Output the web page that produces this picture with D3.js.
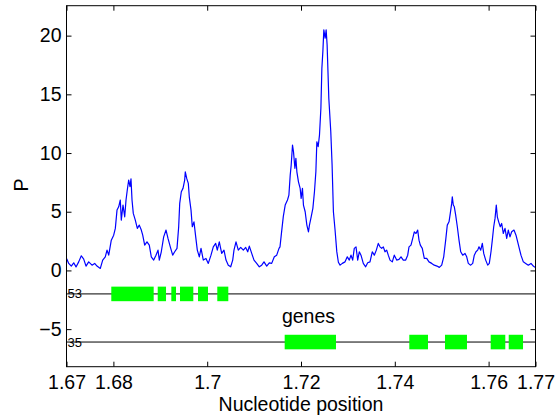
<!DOCTYPE html>
<html>
<head>
<meta charset="utf-8">
<script src="https://cdn.jsdelivr.net/npm/d3@7"></script>
<style>
  html, body { margin: 0; padding: 0; background: #fff; }
  svg { display: block; font-family: "Liberation Sans", Arial, Helvetica, sans-serif; }
</style>
</head>
<body>
<svg id="chart" width="555" height="416"></svg>
<script>
// Nucleotide position (Mb) and P score along the region
const position = [
  1.67004, 1.67047, 1.67102, 1.67154, 1.67203, 1.67260, 1.67316, 1.67367, 1.67416, 1.67473,
  1.67544, 1.67601, 1.67650, 1.67721, 1.67772, 1.67827, 1.67864, 1.67900, 1.67955, 1.68006,
  1.68041, 1.68077, 1.68113, 1.68147, 1.68168, 1.68205, 1.68241, 1.68269, 1.68296, 1.68326,
  1.68354, 1.68375, 1.68397, 1.68424, 1.68467, 1.68510, 1.68552, 1.68595, 1.68625, 1.68667,
  1.68716, 1.68765, 1.68808, 1.68859, 1.68908, 1.68951, 1.68979, 1.69021, 1.69072, 1.69122,
  1.69164, 1.69213, 1.69264, 1.69307, 1.69356, 1.69392, 1.69414, 1.69448, 1.69484, 1.69520,
  1.69533, 1.69563, 1.69597, 1.69618, 1.69655, 1.69682, 1.69718, 1.69755, 1.69789, 1.69832,
  1.69868, 1.69917, 1.69974, 1.70023, 1.70081, 1.70130, 1.70181, 1.70215, 1.70258, 1.70309,
  1.70358, 1.70401, 1.70450, 1.70501, 1.70544, 1.70571, 1.70614, 1.70663, 1.70714, 1.70770,
  1.70821, 1.70864, 1.70898, 1.70949, 1.70998, 1.71055, 1.71111, 1.71162, 1.71211, 1.71269,
  1.71324, 1.71375, 1.71431, 1.71482, 1.71531, 1.71552, 1.71584, 1.71623, 1.71663, 1.71712,
  1.71742, 1.71770, 1.71791, 1.71819, 1.71840, 1.71870, 1.71891, 1.71912, 1.71946, 1.71982,
  1.72003, 1.72031, 1.72052, 1.72089, 1.72125, 1.72159, 1.72180, 1.72217, 1.72253, 1.72287,
  1.72317, 1.72338, 1.72366, 1.72394, 1.72424, 1.72445, 1.72466, 1.72487, 1.72515, 1.72536,
  1.72557, 1.72593, 1.72635, 1.72663, 1.72691, 1.72727, 1.72763, 1.72797, 1.72833, 1.72881,
  1.72939, 1.72987, 1.73030, 1.73066, 1.73102, 1.73136, 1.73173, 1.73209, 1.73243, 1.73279,
  1.73328, 1.73379, 1.73422, 1.73471, 1.73520, 1.73563, 1.73606, 1.73648, 1.73684, 1.73721,
  1.73755, 1.73791, 1.73827, 1.73861, 1.73898, 1.73947, 1.73989, 1.74040, 1.74089, 1.74132,
  1.74181, 1.74232, 1.74275, 1.74303, 1.74345, 1.74382, 1.74416, 1.74452, 1.74488, 1.74516,
  1.74544, 1.74586, 1.74629, 1.74680, 1.74729, 1.74787, 1.74842, 1.74900, 1.74949, 1.75000,
  1.75043, 1.75085, 1.75119, 1.75156, 1.75183, 1.75213, 1.75226, 1.75247, 1.75269, 1.75298,
  1.75333, 1.75369, 1.75405, 1.75448, 1.75497, 1.75533, 1.75567, 1.75618, 1.75661, 1.75695,
  1.75731, 1.75767, 1.75795, 1.75832, 1.75866, 1.75896, 1.75938, 1.75981, 1.76015, 1.76051,
  1.76079, 1.76109, 1.76137, 1.76164, 1.76186, 1.76215, 1.76249, 1.76279, 1.76313, 1.76350,
  1.76386, 1.76420, 1.76456, 1.76492, 1.76541, 1.76584, 1.76620, 1.76654, 1.76690, 1.76740,
  1.76791, 1.76847, 1.76904, 1.76953, 1.76989
];
const P = [
  1.00, 0.60, 0.37, 0.65, 0.30, 0.73, 1.25, 0.96, 0.37, 0.73,
  0.45, 0.60, 0.37, 0.17, 0.88, 1.16, 1.73, 1.30, 2.58, 3.00,
  3.58, 5.14, 5.42, 6.00, 4.29, 5.57, 4.57, 6.00, 6.85, 7.70,
  7.13, 7.80, 6.00, 4.86, 4.29, 3.58, 3.86, 3.44, 3.00, 2.16,
  2.44, 2.16, 1.16, 0.88, 1.30, 1.73, 0.88, 1.59, 2.86, 3.44,
  2.73, 2.01, 1.30, 1.59, 1.88, 3.72, 5.71, 6.70, 6.99, 7.70,
  8.40, 7.84, 7.42, 6.27, 5.14, 3.72, 4.14, 2.86, 1.73, 1.16,
  1.88, 0.88, 1.02, 0.60, 1.30, 2.01, 2.30, 1.73, 2.44, 1.45,
  1.73, 0.88, 0.45, 0.31, 0.88, 1.73, 2.44, 1.73, 1.96, 1.73,
  1.96, 1.59, 2.07, 1.45, 0.88, 0.60, 0.31, 0.45, 0.73, 0.37,
  0.65, 0.60, 1.16, 1.30, 1.88, 2.01, 3.20, 4.60, 5.57, 6.00,
  6.42, 8.12, 8.98, 10.68, 10.11, 8.70, 9.55, 8.40, 7.55, 6.99,
  6.14, 6.99, 5.57, 5.00, 3.86, 3.29, 3.86, 4.57, 5.29, 6.70,
  8.40, 10.96, 10.54, 11.53, 13.81, 17.22, 18.64, 20.49, 19.78, 20.49,
  19.20, 14.66, 11.82, 8.98, 5.00, 3.40, 1.60, 0.70, 0.45, 0.60,
  0.73, 1.16, 0.88, 1.30, 0.88, 1.88, 2.01, 0.88, 1.59, 1.30,
  0.60, 0.31, 0.65, 0.73, 1.59, 1.30, 1.73, 2.30, 2.01, 1.88,
  2.01, 1.59, 1.73, 1.30, 0.88, 0.73, 1.30, 0.88, 0.94, 1.16,
  0.88, 0.88, 1.30, 2.01, 2.16, 2.73, 3.29, 3.15, 3.44, 2.58,
  2.16, 1.88, 1.02, 1.02, 0.73, 0.60, 0.45, 0.37, 0.26, 0.45,
  1.16, 2.58, 3.86, 4.14, 4.86, 5.71, 6.27, 5.57, 5.42, 4.71,
  3.72, 2.58, 1.59, 1.30, 1.45, 1.16, 0.60, 0.45, 0.60, 1.30,
  1.59, 1.73, 2.01, 1.73, 2.30, 1.45, 0.88, 0.45, 0.60, 1.59,
  2.58, 3.72, 4.43, 5.57, 4.57, 4.14, 3.72, 4.00, 3.15, 3.58,
  2.73, 3.44, 2.86, 3.29, 3.44, 3.00, 2.44, 1.88, 1.30, 0.73,
  0.60, 0.45, 0.60, 0.37, 0.26
];

// Gene tracks: one baseline per strand group, with its count label
const rowLabels = ["53", "35"];
const rowLevels = [-2, -6.1];

// Gene extents (Mb) and the track each one sits on
const geneStart = [1.67955, 1.68945, 1.69235, 1.69420, 1.69804, 1.70215,
                   1.71652, 1.74309, 1.75070, 1.76045, 1.76429];
const geneEnd   = [1.68859, 1.69122, 1.69335, 1.69704, 1.70017, 1.70450,
                   1.72746, 1.74708, 1.75539, 1.76356, 1.76734];
const geneRow   = [0, 0, 0, 0, 0, 0, 1, 1, 1, 1, 1];

const xTicks = [1.67, 1.68, 1.70, 1.72, 1.74, 1.76, 1.77];
const xTickLabels = ["1.67", "1.68", "1.7", "1.72", "1.74", "1.76", "1.77"];
const yTicks = [-5, 0, 5, 10, 15, 20];

const margin = { left: 66.5, right: 19.5, top: 5.7, bottom: 49.3 };
const W = 555, H = 416;
const iw = W - margin.left - margin.right;
const ih = H - margin.top - margin.bottom;
const fontSize = 19.5;

const svg = d3.select("#chart");
const g = svg.append("g").attr("transform", `translate(${margin.left},${margin.top})`);

const x = d3.scaleLinear().domain([1.67, 1.77]).range([0, iw]);
const y = d3.scaleLinear().domain([-8.2, 22.55]).range([ih, 0]);

// Gene track baselines and labels
rowLevels.forEach((lv, i) => {
  g.append("text")
    .attr("x", 1)
    .attr("y", y(lv))
    .attr("dy", "0.35em")
    .attr("font-size", 13)
    .attr("fill", "#000")
    .text(rowLabels[i]);
  g.append("line")
    .attr("x1", 0).attr("x2", iw)
    .attr("y1", y(lv)).attr("y2", y(lv))
    .attr("stroke", "#000").attr("stroke-width", 1);
});

// Gene boxes
const boxHalf = 0.62;
g.selectAll("rect.gene")
  .data(geneStart.map((s, i) => ({ s, e: geneEnd[i], r: geneRow[i] })))
  .join("rect")
  .attr("class", "gene")
  .attr("x", d => x(d.s))
  .attr("width", d => x(d.e) - x(d.s))
  .attr("y", d => y(rowLevels[d.r] + boxHalf))
  .attr("height", d => y(rowLevels[d.r] - boxHalf) - y(rowLevels[d.r] + boxHalf))
  .attr("fill", "#00ff00");

g.append("text")
  .attr("x", x(1.7216))
  .attr("y", y(-4.52))
  .attr("text-anchor", "middle")
  .attr("font-size", fontSize)
  .text("genes");

// P curve
const line = d3.line().x((d, i) => x(position[i])).y(d => y(d));
g.append("path")
  .datum(P)
  .attr("d", line)
  .attr("fill", "none")
  .attr("stroke", "#0000ff")
  .attr("stroke-width", 1.2)
  .attr("stroke-linejoin", "round");

// Axes with inward ticks on all four sides
const tick = 5;
const axB = g.append("g").attr("transform", `translate(0,${ih})`)
  .call(d3.axisBottom(x).tickValues(xTicks).tickFormat((d, i) => xTickLabels[i])
    .tickSizeInner(-tick).tickSizeOuter(0).tickPadding(8));
const axT = g.append("g")
  .call(d3.axisTop(x).tickValues(xTicks).tickFormat("").tickSizeInner(-tick).tickSizeOuter(0));
const axL = g.append("g")
  .call(d3.axisLeft(y).tickValues(yTicks).tickSizeInner(-tick).tickSizeOuter(0).tickPadding(5));
const axR = g.append("g").attr("transform", `translate(${iw},0)`)
  .call(d3.axisRight(y).tickValues(yTicks).tickFormat("").tickSizeInner(-tick).tickSizeOuter(0));

[axB, axT, axL, axR].forEach(a => {
  a.select(".domain").remove();
  a.selectAll("text").attr("font-size", fontSize).attr("fill", "#000")
    .attr("font-family", "\"Liberation Sans\", Arial, Helvetica, sans-serif");
  a.selectAll("line").attr("stroke", "#000");
});

// Frame
g.append("rect")
  .attr("x", 0).attr("y", 0).attr("width", iw).attr("height", ih)
  .attr("fill", "none").attr("stroke", "#000").attr("stroke-width", 1);

// Axis titles
svg.append("text")
  .attr("x", margin.left + iw / 2)
  .attr("y", 411)
  .attr("text-anchor", "middle")
  .attr("font-size", fontSize)
  .text("Nucleotide position");

svg.append("text")
  .attr("transform", `translate(28,185) rotate(-90)`)
  .attr("text-anchor", "middle")
  .attr("font-size", fontSize)
  .text("P");
</script>
</body>
</html>
